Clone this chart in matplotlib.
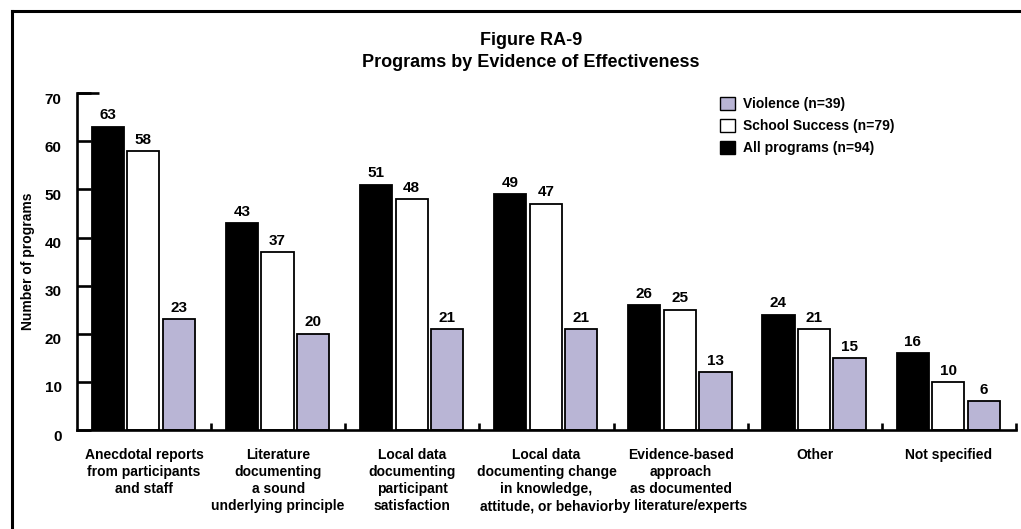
import matplotlib
matplotlib.use('Agg')

import matplotlib.pyplot as plt
import numpy as np
from matplotlib.patches import Patch
from matplotlib.lines import Line2D
from matplotlib.transforms import ScaledTranslation

plt.rcParams['font.family'] = ['Liberation Sans', 'DejaVu Sans']
plt.rcParams['font.weight'] = 'bold'

# Data
categories = [
    "Anecdotal reports\nfrom participants\nand staff",
    "Literature\ndocumenting\na sound\nunderlying principle",
    "Local data\ndocumenting\nparticipant\nsatisfaction",
    "Local data\ndocumenting change\nin knowledge,\nattitude, or behavior",
    "Evidence-based\napproach\nas documented\nby literature/experts",
    "Other",
    "Not specified",
]
all_programs = [63, 43, 51, 49, 26, 24, 16]
school_success = [58, 37, 48, 47, 25, 21, 10]
violence = [23, 20, 21, 21, 12, 15, 6]          # bar heights as drawn
violence_labels = [23, 20, 21, 21, 13, 15, 6]   # numbers printed above the bars
y_ticks = [0, 10, 20, 30, 40, 50, 60, 70]

lavender = '#b9b5d5'

fig = plt.figure(figsize=(10.21, 5.29), dpi=100)
ax = fig.add_axes([0.0754, 0.187, 0.9196, 0.637])

x = np.arange(len(categories))
w = 0.24
offsets = [0.23, 0.495, 0.76]

series = [
    (all_programs, all_programs, 'black', 'All programs (n=94)'),
    (school_success, school_success, 'white', 'School Success (n=79)'),
    (violence, violence_labels, lavender, 'Violence (n=39)'),
]
for (vals, labs, col, name), off in zip(series, offsets):
    bars = ax.bar(x + off, vals, width=w, color=col, edgecolor='black', linewidth=1.3)
    for b, lab in zip(bars, labs):
        ax.text(b.get_x() + b.get_width() / 2, b.get_height() + 0.9, str(lab),
                ha='center', va='bottom', fontsize=11, fontweight='bold')

ax.set_xlim(0, len(categories))
ax.set_ylim(0, 70)

for s in ['top', 'right']:
    ax.spines[s].set_visible(False)
for s in ['left', 'bottom']:
    ax.spines[s].set_linewidth(1.9)

ax.set_yticks(y_ticks)
ax.tick_params(axis='y', direction='in', length=10, width=1.9, pad=11, labelsize=11)
for lab in ax.get_yticklabels():
    lab.set_fontweight('bold')
    lab.set_transform(lab.get_transform() + ScaledTranslation(0, -0.05, fig.dpi_scale_trans))
ax.hlines(70, 0, 0.165, color='black', linewidth=1.9, clip_on=False)

ax.set_xticks(x + 0.5)
ax.set_xticklabels(categories, fontsize=10, fontweight='bold', linespacing=1.28)
ax.tick_params(axis='x', which='major', length=0, pad=13)
ax.set_xticks(np.arange(1, len(categories) + 1), minor=True)
ax.tick_params(axis='x', which='minor', direction='in', length=5, width=1.9)

ax.set_ylabel('Number of programs', fontsize=10, fontweight='bold', labelpad=7)

fig.text(0.52, 0.924, 'Figure RA-9', ha='center', va='center', fontsize=13, fontweight='bold')
fig.text(0.52, 0.882, 'Programs by Evidence of Effectiveness', ha='center', va='center',
         fontsize=13, fontweight='bold')

handles = [
    Patch(facecolor=lavender, edgecolor='black', linewidth=1.0),
    Patch(facecolor='white', edgecolor='black', linewidth=1.0),
    Patch(facecolor='black', edgecolor='black', linewidth=1.0),
]
names = ['Violence (n=39)', 'School Success (n=79)', 'All programs (n=94)']
leg = fig.legend(handles, names, loc='upper left', bbox_to_anchor=(0.698, 0.83),
                 frameon=False, fontsize=10, borderpad=0, handlelength=1.1,
                 handleheight=1.1, handletextpad=0.6, labelspacing=0.55)
for t in leg.get_texts():
    t.set_fontweight('bold')

# outer frame lines (top and left)
fig.add_artist(Line2D([0.0118, 1.0], [0.979, 0.979], color='black', linewidth=2.2,
                      transform=fig.transFigure))
fig.add_artist(Line2D([0.0118, 0.0118], [0.0, 0.979], color='black', linewidth=2.2,
                      transform=fig.transFigure))

fig.savefig('out.png', dpi=100)
